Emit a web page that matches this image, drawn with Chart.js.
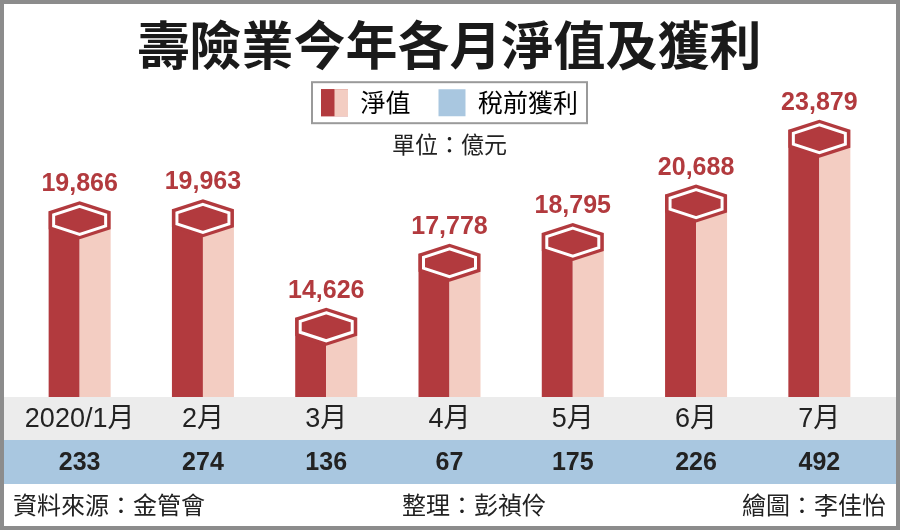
<!DOCTYPE html>
<html>
<head>
<meta charset="utf-8">
<script src="https://cdn.jsdelivr.net/npm/chart.js@4.4.1/dist/chart.umd.min.js"></script>
<style>
  html, body { margin: 0; padding: 0; background: #fff; }
</style>
</head>
<body>
<canvas id="grafica" width="900" height="530"></canvas>
<script>
// datos
var months = ["2020/1月", "2月", "3月", "4月", "5月", "6月", "7月"];
var netWorth = [19866, 19963, 14626, 17778, 18795, 20688, 23879];   // 淨值
var pretaxProfit = [233, 274, 136, 67, 175, 226, 492];                // 稅前獲利
var seriesNames = ["淨值", "稅前獲利"];
var footerNotes = ["資料來源：金管會", "整理：彭禎伶", "繪圖：李佳怡"];

var DARK = "#b23a3e";
var LIGHT = "#f3cdc2";
var BLUE = "#a9c7e0";
var GREY = "#ececec";
var CJK = '"Noto Sans CJK TC", "Noto Sans", sans-serif';
var LATIN = '"Liberation Sans", "Noto Sans CJK TC", sans-serif';

function hexPath(ctx, cx, top, half, a, b, c) {
    ctx.beginPath();
    ctx.moveTo(cx, top);
    ctx.lineTo(cx + half, top + a);
    ctx.lineTo(cx + half, top + b);
    ctx.lineTo(cx, top + c);
    ctx.lineTo(cx - half, top + b);
    ctx.lineTo(cx - half, top + a);
    ctx.closePath();
}

var hexBars = {
    id: "hexBars",
    beforeDraw: function (chart) {
        var ctx = chart.ctx;
        var x = chart.scales.x, x2 = chart.scales.x2;
        ctx.save();
        ctx.fillStyle = "#fff";
        ctx.fillRect(0, 0, chart.width, chart.height);
        // franjas de meses y de ganancias
        ctx.fillStyle = GREY;
        ctx.fillRect(3, x.top, chart.width - 6, x.bottom - x.top);
        ctx.fillStyle = BLUE;
        ctx.fillRect(3, x2.top, chart.width - 6, x2.bottom - x2.top);
        ctx.restore();
    },
    afterDatasetsDraw: function (chart) {
        var ctx = chart.ctx;
        var meta = chart.getDatasetMeta(0);
        var base = chart.scales.y.getBasePixel();
        ctx.save();
        meta.data.forEach(function (bar, i) {
            var cx = bar.x, top = bar.y, half = bar.width / 2;
            // cuerpo de la barra
            ctx.fillStyle = DARK;
            ctx.fillRect(cx - half, top + 10, half, base - top - 10);
            ctx.fillStyle = LIGHT;
            ctx.fillRect(cx, top + 10, half, base - top - 10);
            // tapa hexagonal
            hexPath(ctx, cx, top, half, 10, 28, 38);
            ctx.fillStyle = DARK;
            ctx.fill();
            hexPath(ctx, cx, top + 5, half - 5, 8.5, 19.5, 28);
            ctx.strokeStyle = "#fff";
            ctx.lineWidth = 3;
            ctx.lineJoin = "miter";
            ctx.stroke();
            // valor
            ctx.fillStyle = DARK;
            ctx.font = "bold 25px " + LATIN;
            ctx.textAlign = "center";
            ctx.textBaseline = "alphabetic";
            ctx.fillText(netWorth[i].toLocaleString("en-US"), cx, top - 10);
        });
        ctx.restore();
    },
    afterDraw: function (chart) {
        var ctx = chart.ctx;
        var boxes = chart.legend.legendHitBoxes;
        ctx.save();
        // recuadro de la leyenda
        if (boxes && boxes.length) {
            var b0 = boxes[0], b1 = boxes[boxes.length - 1];
            ctx.strokeStyle = "#9a9a9a";
            ctx.lineWidth = 2;
            ctx.strokeRect(b0.left - 9, b0.top - 7, (b1.left + b1.width + 9) - (b0.left - 9), 41);
            // muestra partida (oscuro / claro)
            ctx.fillStyle = DARK;
            ctx.fillRect(b0.left, b0.top, 13.5, 27);
            ctx.fillStyle = LIGHT;
            ctx.fillRect(b0.left + 13.5, b0.top, 13.5, 27);
        }
        // pie
        ctx.fillStyle = "#222";
        ctx.font = "24px " + CJK;
        ctx.textBaseline = "middle";
        ctx.textAlign = "left";
        ctx.fillText(footerNotes[0], 13, 505);
        ctx.textAlign = "center";
        ctx.fillText(footerNotes[1], 474, 505);
        ctx.textAlign = "right";
        ctx.fillText(footerNotes[2], 886, 505);
        // marco
        ctx.strokeStyle = "#8c8c8c";
        ctx.lineWidth = 4;
        ctx.strokeRect(2, 2, chart.width - 4, chart.height - 4);
        ctx.restore();
    }
};

var ctx = document.getElementById("grafica").getContext("2d");
var chart = new Chart(ctx, {
    type: "bar",
    data: {
        labels: months,
        datasets: [
            {
                label: seriesNames[0],
                data: netWorth,
                backgroundColor: "rgba(0,0,0,0)",
                borderWidth: 0,
                barThickness: 62,
                clip: false
            }
        ]
    },
    options: {
        responsive: false,
        devicePixelRatio: 1,
        animation: false,
        layout: { padding: { left: 18, right: 19, top: 0, bottom: 46 } },
        plugins: {
            tooltip: { enabled: false },
            title: {
                display: true,
                text: "壽險業今年各月淨值及獲利",
                color: "#1a1a1a",
                font: { family: CJK, size: 52, weight: "bold", lineHeight: 0.6 },
                padding: { top: 30, bottom: 0 }
            },
            legend: {
                display: true,
                position: "top",
                labels: {
                    boxWidth: 27,
                    boxHeight: 27,
                    padding: 28,
                    color: "#222",
                    font: { family: CJK, size: 25 },
                    generateLabels: function () {
                        return [
                            { text: seriesNames[0], fillStyle: DARK, strokeStyle: DARK, lineWidth: 0, hidden: false, datasetIndex: 0 },
                            { text: seriesNames[1], fillStyle: BLUE, strokeStyle: BLUE, lineWidth: 0, hidden: false, datasetIndex: 1 }
                        ];
                    }
                },
                onClick: function () {}
            },
            subtitle: {
                display: true,
                text: "單位：億元",
                color: "#222",
                weight: 500,
                font: { family: CJK, size: 23 },
                padding: { top: 4, bottom: 10 }
            }
        },
        scales: {
            x: {
                weight: 0,
                grid: { display: false, drawTicks: false },
                border: { display: false },
                ticks: {
                    color: "#222",
                    font: { family: LATIN, size: 27 },
                    padding: 6,
                    maxRotation: 0,
                    autoSkip: false
                },
                afterFit: function (s) { s.height = 43; }
            },
            x2: {
                type: "category",
                labels: pretaxProfit.map(String),
                offset: true,
                position: "bottom",
                weight: 1,
                grid: { display: false, drawTicks: false },
                border: { display: false },
                ticks: {
                    color: "#222",
                    font: { family: LATIN, size: 25, weight: "bold" },
                    padding: 8,
                    maxRotation: 0,
                    autoSkip: false
                },
                afterFit: function (s) { s.height = 44; }
            },
            y: {
                display: false,
                beginAtZero: false,
                min: 10236,
                max: 21516
            }
        }
    },
    plugins: [hexBars]
});
</script>
</body>
</html>
